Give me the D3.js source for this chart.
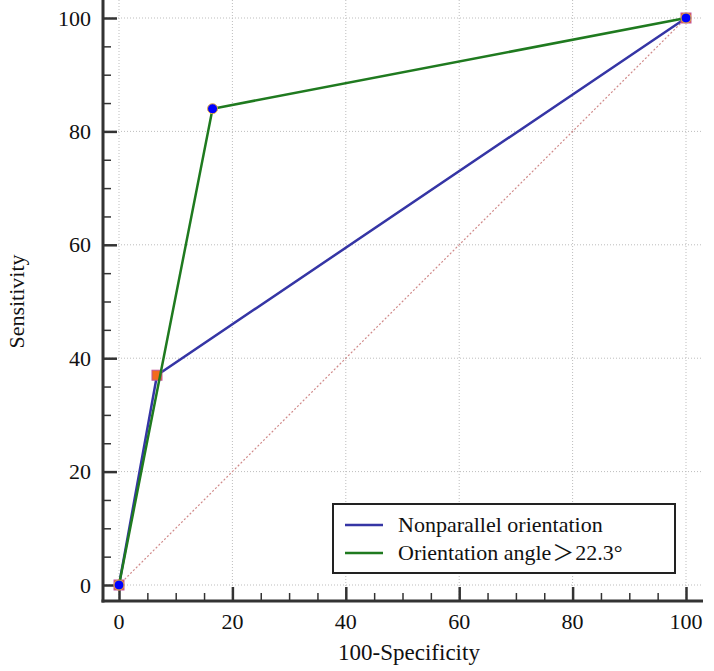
<!DOCTYPE html>
<html><head><meta charset="utf-8">
<script src="https://cdn.jsdelivr.net/npm/d3@7"></script>
<style>body{margin:0;background:#fff}svg{display:block}</style>
</head><body><svg id="c" width="714" height="671"></svg>
<script>
const seriesNames = ["Nonparallel orientation", "Orientation angle\uFF1E22.3\u00B0"];
const fprNonparallel = [0, 6.7, 100];
const sensNonparallel = [0, 37, 100];
const fprAngle = [0, 16.5, 100];
const sensAngle = [0, 84, 100];
const majorTicks = [0, 20, 40, 60, 80, 100];
const minorTicks = [5, 10, 15, 25, 30, 35, 45, 50, 55, 65, 70, 75, 85, 90, 95];
const xTitle = "100-Specificity";
const yTitle = "Sensitivity";

const svg = d3.select("#c");
const x = d3.scaleLinear().domain([0, 100]).range([119, 686]);
const y = d3.scaleLinear().domain([0, 100]).range([585, 18]);
const L = 103, R = 703, T = 0, B = 601;
const font = "'Liberation Serif','Times New Roman',serif";
const cjk = "'Noto Sans CJK SC','Noto Sans CJK JP',sans-serif";

// grid
svg.append("g").selectAll("line").data(majorTicks).join("line")
  .attr("x1", d => x(d)).attr("x2", d => x(d)).attr("y1", T).attr("y2", B)
  .attr("stroke", "#bdbdbd").attr("stroke-width", 1).attr("stroke-dasharray", "1,2");
svg.append("g").selectAll("line").data(majorTicks).join("line")
  .attr("y1", d => y(d)).attr("y2", d => y(d)).attr("x1", L).attr("x2", R)
  .attr("stroke", "#bdbdbd").attr("stroke-width", 1).attr("stroke-dasharray", "1,2");

// diagonal reference line
svg.append("line").attr("x1", x(0)).attr("y1", y(0)).attr("x2", x(100)).attr("y2", y(100))
  .attr("stroke", "#d08a8a").attr("stroke-width", 1.2).attr("stroke-dasharray", "2,2");

// axes
const axisColor = "#333";
function styleAxis(g, w) {
  g.select(".domain").remove();
  g.selectAll("line").attr("stroke", axisColor).attr("stroke-width", w);
}
svg.append("g").attr("transform", `translate(0,${B})`)
  .call(d3.axisTop(x).tickValues(minorTicks).tickSize(8).tickFormat(""))
  .call(g => styleAxis(g, 1.5));
svg.append("g").attr("transform", `translate(0,${B})`)
  .call(d3.axisTop(x).tickValues(majorTicks).tickSize(14).tickFormat(""))
  .call(g => styleAxis(g, 2.5));
svg.append("g").attr("transform", `translate(${L},0)`)
  .call(d3.axisRight(y).tickValues(minorTicks).tickSize(8).tickFormat(""))
  .call(g => styleAxis(g, 1.5));
svg.append("g").attr("transform", `translate(${L},0)`)
  .call(d3.axisRight(y).tickValues(majorTicks).tickSize(14).tickFormat(""))
  .call(g => styleAxis(g, 2.5));
svg.append("line").attr("x1", L).attr("x2", L).attr("y1", T).attr("y2", B + 1.5)
  .attr("stroke", axisColor).attr("stroke-width", 3);
svg.append("line").attr("x1", L - 1.5).attr("x2", R).attr("y1", B).attr("y2", B)
  .attr("stroke", axisColor).attr("stroke-width", 3);

// tick labels
svg.append("g").selectAll("text").data(majorTicks).join("text")
  .attr("x", d => x(d)).attr("y", 629).attr("text-anchor", "middle")
  .attr("font-family", font).attr("font-size", 22).attr("fill", "#111").text(d => d);
svg.append("g").selectAll("text").data(majorTicks).join("text")
  .attr("x", 91).attr("y", d => y(d) + 7.5).attr("text-anchor", "end")
  .attr("font-family", font).attr("font-size", 22).attr("fill", "#111").text(d => d);

// titles
svg.append("text").attr("x", 409).attr("y", 660).attr("text-anchor", "middle")
  .attr("font-family", font).attr("font-size", 23).attr("fill", "#111").text(xTitle);
svg.append("text").attr("transform", `translate(24,${(y(0) + y(100)) / 2}) rotate(-90)`)
  .attr("text-anchor", "middle")
  .attr("font-family", font).attr("font-size", 22).attr("fill", "#111").text(yTitle);

// series
const line = d3.line().x(d => x(d[0])).y(d => y(d[1]));
const s1 = fprNonparallel.map((v, i) => [v, sensNonparallel[i]]);
const s2 = fprAngle.map((v, i) => [v, sensAngle[i]]);
const blue = "#3535a5", green = "#1f7a1f";

svg.append("path").datum(s1).attr("d", line).attr("fill", "none").attr("stroke", blue).attr("stroke-width", 2.5);
svg.append("g").selectAll("rect").data(s1).join("rect")
  .attr("x", d => x(d[0]) - 5).attr("y", d => y(d[1]) - 5).attr("width", 10).attr("height", 10)
  .attr("fill", "#f26a1f").attr("stroke", "#c0559a").attr("stroke-width", 1);
svg.append("path").datum(s2).attr("d", line).attr("fill", "none").attr("stroke", green).attr("stroke-width", 2.5);
svg.append("g").selectAll("circle").data(s2).join("circle")
  .attr("cx", d => x(d[0])).attr("cy", d => y(d[1])).attr("r", 5)
  .attr("fill", "#0000ff").attr("stroke", "#e8b040").attr("stroke-width", 1);

// legend
const lg = svg.append("g");
lg.append("rect").attr("x", 333).attr("y", 504).attr("width", 342).attr("height", 69)
  .attr("fill", "#fff").attr("stroke", "#222").attr("stroke-width", 2);
[blue, green].forEach((c, i) => {
  const yy = 525 + i * 28;
  lg.append("line").attr("x1", 345).attr("x2", 383).attr("y1", yy).attr("y2", yy)
    .attr("stroke", c).attr("stroke-width", 2.5);
  const t = lg.append("text").attr("x", 398).attr("y", yy + 7).attr("font-family", font)
    .attr("font-size", 22).attr("fill", "#111");
  const name = seriesNames[i];
  const k = name.indexOf("\uFF1E");
  if (k < 0) {
    t.text(name);
  } else {
    t.append("tspan").text(name.slice(0, k));
    t.append("tspan").attr("font-family", cjk).attr("dx", 1).text("\uFF1E");
    t.append("tspan").attr("dx", 1).text(name.slice(k + 1));
  }
});
</script></body></html>
